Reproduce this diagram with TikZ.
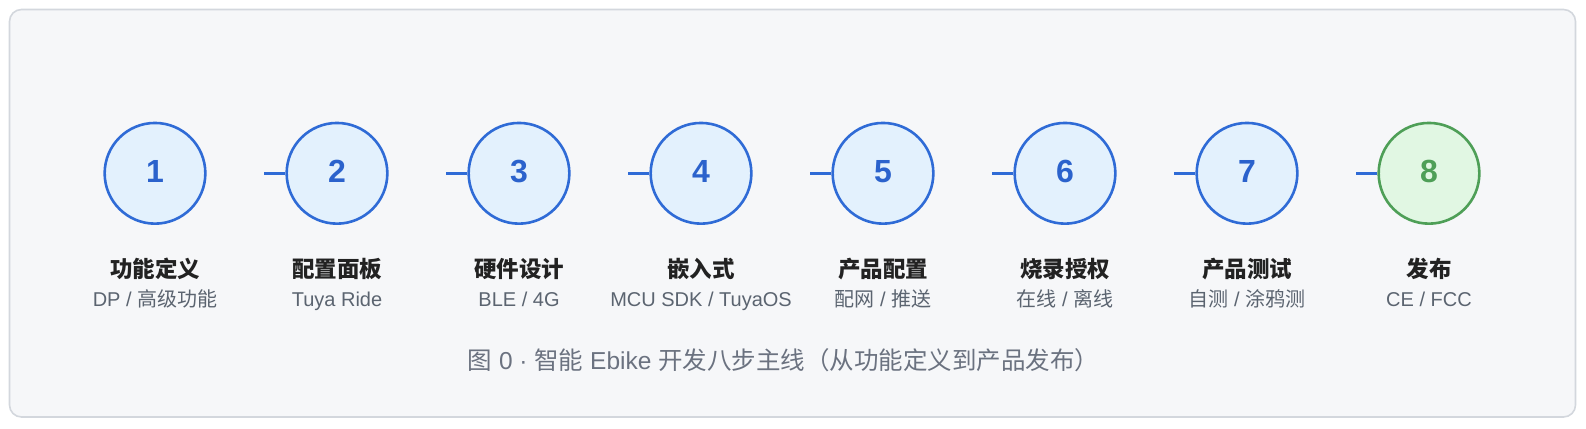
\documentclass[tikz,border=0pt]{standalone}
\usepackage{fontspec}
\setmainfont{Liberation Sans}
\newfontfamily\cjk{Noto Sans CJK SC}
\definecolor{panelfill}{HTML}{F6F7F9}
\definecolor{paneldraw}{HTML}{D3D7DD}
\definecolor{blueline}{HTML}{2F6BD6}
\definecolor{bluefill}{HTML}{E3F1FD}
\definecolor{bluetext}{HTML}{2B62CC}
\definecolor{greenline}{HTML}{4E9F57}
\definecolor{greenfill}{HTML}{E1F7E3}
\definecolor{titletext}{HTML}{222222}
\definecolor{subtext}{HTML}{5B6470}
\definecolor{captext}{HTML}{6B7280}
\tikzset{
  stepcircle/.style={circle, draw=blueline, fill=bluefill, line width=2.6pt, minimum size=100.7pt, inner sep=0pt, text=bluetext, text height=23pt, text depth=5pt, font=\fontsize{32}{32}\selectfont\bfseries},
  greencircle/.style={stepcircle, draw=greenline, fill=greenfill, text=greenline},
  link/.style={draw=blueline, line width=3pt},
  titlelabel/.style={font=\fontsize{22.5}{22.5}\selectfont\cjk\bfseries, text=titletext, inner sep=0pt},
  sublabel/.style={font=\fontsize{20}{20}\selectfont, text=subtext, inner sep=0pt, anchor=base},
  caplabel/.style={font=\fontsize{24.5}{24.5}\selectfont, text=captext, inner sep=0pt, anchor=base},
}
\begin{document}
\begin{tikzpicture}[x=1pt,y=-1pt]
\useasboundingbox (0,0) rectangle (1586,428);
\draw[draw=paneldraw, fill=panelfill, line width=1.6pt, rounded corners=12pt] (9.5,9.5) rectangle (1575.5,417);
\foreach \i/\t/\s [count=\k from 0] in {
  1/{功能定义}/{DP / {\cjk 高级功能}},
  2/{配置面板}/{Tuya Ride},
  3/{硬件设计}/{BLE / 4G},
  4/{嵌入式}/{MCU SDK / TuyaOS},
  5/{产品配置}/{{\cjk 配网} / {\cjk 推送}},
  6/{烧录授权}/{{\cjk 在线} / {\cjk 离线}},
  7/{产品测试}/{{\cjk 自测} / {\cjk 涂鸦测}},
  8/{发布}/{CE / FCC}} {
  \pgfmathsetmacro{\cx}{155+182*\k}
  \ifnum\i=8
    \node[greencircle] (s\i) at (\cx,173.3) {\i};
  \else
    \node[stepcircle] (s\i) at (\cx,173.3) {\i};
  \fi
  \node[titlelabel] (t\i) at (\cx,269) {\t};
  \node[sublabel] (u\i) at (\cx,306) {\s};
}
\foreach \i in {2,...,8} {
  \path (s\i.center) ++(-73,0) coordinate (c\i);
  \draw[link] (c\i) -- (s\i.west);
}
\node[caplabel] (cap) at (783.5,369.5) {{\cjk 图} 0 · {\cjk 智能} Ebike {\cjk 开发八步主线（从功能定义到产品发布）}};
\end{tikzpicture}
\end{document}
